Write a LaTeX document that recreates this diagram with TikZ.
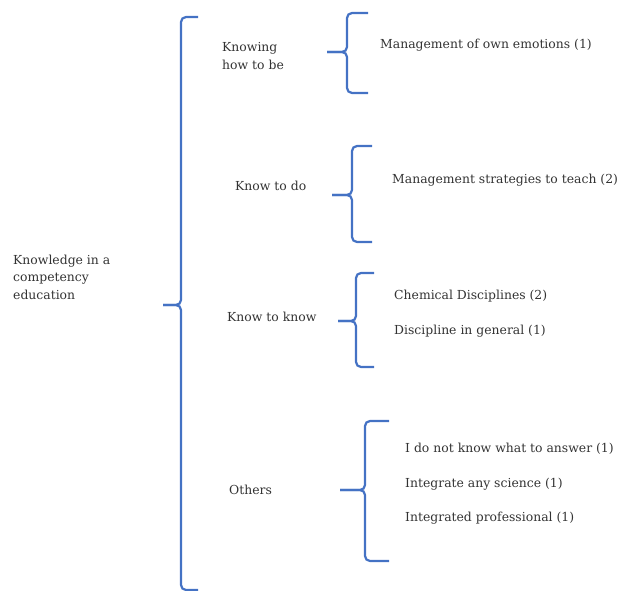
\documentclass[tikz,border=0pt]{standalone}
\usepackage{fontspec}
\setmainfont{DejaVu Serif}
\usepackage{tikz}
\definecolor{braceblue}{HTML}{4472C4}
\definecolor{txtgray}{HTML}{333333}
\tikzset{
    brace/.style={draw=braceblue, line width=2.2pt, rounded corners=5pt},
    lbl/.style={anchor=west, inner sep=0pt, text=txtgray, font=\fontsize{12.4}{17.5}\selectfont, align=left}
}

\begin{document}
\begin{tikzpicture}[x=1pt,y=-1pt]
                \useasboundingbox (0,0) rectangle (619,591);

                % labels
                \node[lbl] (root) at (13,277) {Knowledge in a\\competency\\education};
                \node[lbl] (be) at (222,56) {Knowing\\how to be};
                \node[lbl] (do) at (235,186) {Know to do};
                \node[lbl] (know) at (227,317) {Know to know};
                \node[lbl] (oth) at (229,490) {Others};

                \node[lbl] (emo) at (380,45) {Management of own emotions (1)};
                \node[lbl] (teach) at (392,180) {Management strategies to teach (2)};
                \node[lbl] (chem) at (394,296) {Chemical Disciplines (2)};
                \node[lbl] (disc) at (394,331) {Discipline in general (1)};
                \node[lbl] (dont) at (405,449) {I do not know what to answer (1)};
                \node[lbl] (sci) at (405,484) {Integrate any science (1)};
                \node[lbl] (prof) at (405,518) {Integrated professional (1)};

                % big brace
                \draw[brace] (198,17) -- (181,17) -- (181,305) -- (163,305);
                \draw[brace] (163,305) -- (181,305) -- (181,590) -- (198,590);

                % small braces
                \draw[brace] (368,13) -- (347,13) -- (347,52) -- (327,52);
                \draw[brace] (327,52) -- (347,52) -- (347,93) -- (368,93);

                \draw[brace] (372,146) -- (352,146) -- (352,195) -- (332,195);
                \draw[brace] (332,195) -- (352,195) -- (352,242) -- (372,242);

                \draw[brace] (374,273) -- (356,273) -- (356,321) -- (338,321);
                \draw[brace] (338,321) -- (356,321) -- (356,367) -- (374,367);

                \draw[brace] (389,421) -- (365,421) -- (365,490) -- (340,490);
                \draw[brace] (340,490) -- (365,490) -- (365,561) -- (389,561);
\end{tikzpicture}
\end{document}
